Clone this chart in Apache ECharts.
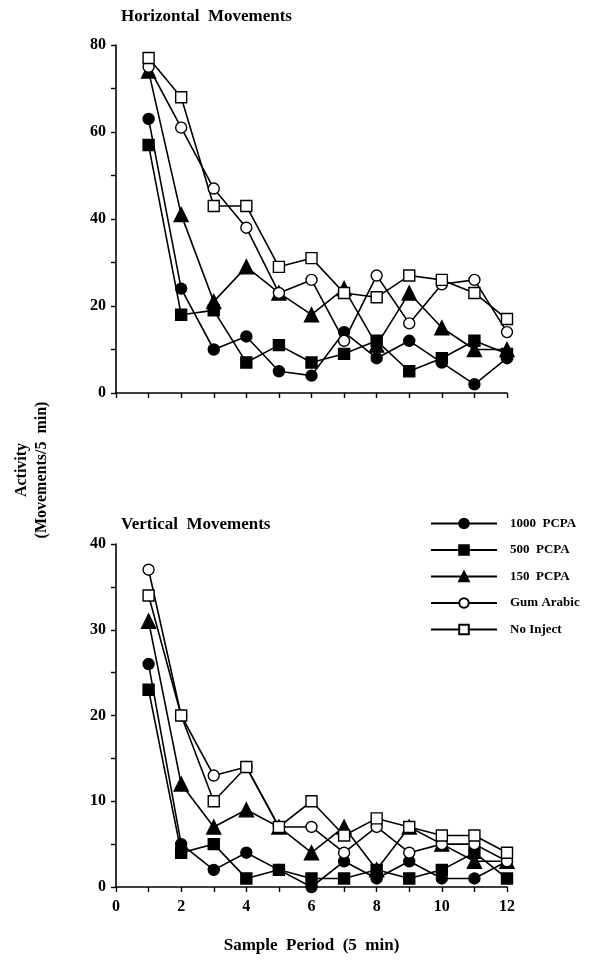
<!DOCTYPE html>
<html>
<head>
<meta charset="utf-8">
<script src="https://cdn.jsdelivr.net/npm/echarts@6/dist/echarts.min.js"></script>
<style>
  html, body { margin: 0; padding: 0; background: #fff; }
  #chart { width: 615px; height: 962px; }
</style>
</head>
<body>
<div id="chart"></div>
<script>
// sample periods
var periods = [1, 2, 3, 4, 5, 6, 7, 8, 9, 10, 11, 12];
var groups = ['1000  PCPA', '500  PCPA', '150  PCPA', 'Gum Arabic', 'No Inject'];

// horizontal movements
var hor1000 = [63, 24, 10, 13, 5, 4, 14, 8, 12, 7, 2, 8];
var hor500 = [57, 18, 19, 7, 11, 7, 9, 12, 5, 8, 12, 9];
var hor150 = [74, 41, 21, 29, 23, 18, 24, 11, 23, 15, 10, 10];
var horGum = [75, 61, 47, 38, 23, 26, 12, 27, 16, 25, 26, 14];
var horNone = [77, 68, 43, 43, 29, 31, 23, 22, 27, 26, 23, 17];

// vertical movements
var ver1000 = [26, 5, 2, 4, 2, 0, 3, 1, 3, 1, 1, 3];
var ver500 = [23, 4, 5, 1, 2, 1, 1, 2, 1, 2, 4, 1];
var ver150 = [31, 12, 7, 9, 7, 4, 7, 2, 7, 5, 3, 3];
var verGum = [37, 20, 13, 14, 7, 7, 4, 7, 4, 5, 5, 3];
var verNone = [34, 20, 10, 14, 7, 10, 6, 8, 7, 6, 6, 4];

var serif = 'Liberation Serif';

var markers = [
  {symbol: 'circle', size: 11, fill: '#000'},
  {symbol: 'rect', size: 11, fill: '#000'},
  {symbol: 'triangle', size: 14, fill: '#000'},
  {symbol: 'circle', size: 11, fill: '#fff'},
  {symbol: 'rect', size: 11, fill: '#fff'}
];

function pairs(vals) {
  return periods.map(function (p, i) { return [p, vals[i]]; });
}

function makeSeries(sets, gi) {
  return sets.map(function (vals, k) {
    var m = markers[k];
    return {
      name: groups[k],
      type: 'line',
      xAxisIndex: gi,
      yAxisIndex: gi,
      symbol: m.symbol,
      symbolSize: m.size,
      showAllSymbol: true,
      lineStyle: {color: '#000', width: 1.6},
      itemStyle: {color: m.fill, borderColor: '#000', borderWidth: 1.4},
      emphasis: {disabled: true},
      data: pairs(vals)
    };
  });
}

var labelStyle = {color: '#000', fontFamily: serif, fontWeight: 'bold', fontSize: 16};
var axisLine = {show: true, lineStyle: {color: '#000', width: 1.6}};
var axisTick = {show: true, inside: false, length: 5, lineStyle: {color: '#000', width: 1.4}};

var myChart = echarts.init(document.getElementById('chart'));
var option = {
  animation: false,
  backgroundColor: '#fff',
  title: [
    {text: 'Horizontal  Movements', left: 116, top: 3,
     textStyle: {fontFamily: serif, fontWeight: 'bold', fontSize: 17, color: '#000'}},
    {text: 'Vertical  Movements', left: 116, top: 511,
     textStyle: {fontFamily: serif, fontWeight: 'bold', fontSize: 17, color: '#000'}}
  ],
  legend: {
    orient: 'vertical',
    left: 425,
    top: 512,
    itemWidth: 66,
    itemHeight: 12,
    itemGap: 13.5,
    data: groups,
    textStyle: {fontFamily: serif, fontWeight: 'bold', fontSize: 13, color: '#000', padding: [0, 0, 0, 8]}
  },
  grid: [
    {left: 116, top: 45, width: 391, height: 348},
    {left: 116, top: 544, width: 391, height: 343}
  ],
  xAxis: [
    {gridIndex: 0, type: 'value', min: 0, max: 12, interval: 1,
     axisLine: axisLine, axisTick: axisTick, splitLine: {show: false},
     axisLabel: {show: false}},
    {gridIndex: 1, type: 'value', min: 0, max: 12, interval: 1,
     axisLine: axisLine, axisTick: axisTick, splitLine: {show: false},
     axisLabel: Object.assign({margin: 12, formatter: function (v) { return v % 2 === 0 ? v : ''; }}, labelStyle),
     name: 'Sample  Period  (5  min)', nameLocation: 'middle', nameGap: 50,
     nameTextStyle: {fontFamily: serif, fontWeight: 'bold', fontSize: 17, color: '#000'}}
  ],
  yAxis: [
    {gridIndex: 0, type: 'value', min: 0, max: 80, interval: 10,
     axisLine: axisLine, axisTick: axisTick, splitLine: {show: false},
     axisLabel: Object.assign({margin: 10, formatter: function (v) { return v % 20 === 0 ? v : ''; }}, labelStyle)},
    {gridIndex: 1, type: 'value', min: 0, max: 40, interval: 5,
     axisLine: axisLine, axisTick: axisTick, splitLine: {show: false},
     axisLabel: Object.assign({margin: 10, formatter: function (v) { return v % 10 === 0 ? v : ''; }}, labelStyle)}
  ],
  graphic: [
    {type: 'text', x: 32, y: 470, rotation: Math.PI / 2,
     style: {text: 'Activity\n(Movements/5  min)', align: 'center', verticalAlign: 'middle',
             lineHeight: 20, fill: '#000', font: 'bold 16px "Liberation Serif"'}}
  ],
  series: makeSeries([hor1000, hor500, hor150, horGum, horNone], 0)
    .concat(makeSeries([ver1000, ver500, ver150, verGum, verNone], 1))
};
myChart.setOption(option);
window.addEventListener('resize', function () {
  myChart.resize();
});
</script>
</body>
</html>
